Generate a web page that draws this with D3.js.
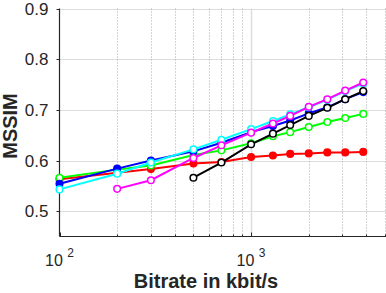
<html>
<head>
  <title>MSSIM vs bitrate</title>
  <script src='https://d3js.org/d3.v7.min.js'></script>
  <style>
    body { margin: 0; background: #fff; }
    text { font-family: "Liberation Sans", Arial, sans-serif; fill: #262626; }
  </style>
</head>
<body>
<script>

// bitrates (kbit/s) shared by all curves
var bitrates = [100, 200, 300, 500, 700, 1000, 1300, 1600, 2000, 2500, 3100, 3850];

var red   = [0.563, 0.576, 0.583, 0.594, 0.597, 0.607, 0.610, 0.613, 0.614, 0.616, 0.616, 0.617];
var green = [0.566, 0.582, 0.590, 0.611, 0.620, 0.634, 0.648, 0.656, 0.666, 0.676, 0.684, 0.692];
var blue  = [0.554, 0.584, 0.600, 0.618, 0.635, 0.656, 0.668, 0.679, 0.693, 0.705, 0.721, 0.735];
var cyan  = [0.543, 0.574, 0.596, 0.622, 0.641, 0.662, 0.678, 0.691, 0.705, 0.720, 0.737, 0.752];
var magenta = [null, 0.544, 0.561, 0.605, 0.630, 0.655, 0.673, 0.688, 0.706, 0.721, 0.738, 0.754];
var black = [null, null, null, 0.566, 0.596, 0.632, 0.653, 0.670, 0.688, 0.704, 0.721, 0.737];

var yTicks = [0.5, 0.6, 0.7, 0.8, 0.9];
var xMajor = [100, 1000];
var xMinor = [200, 300, 400, 500, 600, 700, 800, 900, 2000, 3000, 4000, 5000];

var series = [
  {name: "red", values: red, color: "#ff0000", filled: true},
  {name: "green", values: green, color: "#00ff00", filled: false},
  {name: "blue", values: blue, color: "#0000ff", filled: true},
  {name: "cyan", values: cyan, color: "#00ffff", filled: false},
  {name: "magenta", values: magenta, color: "#ff00ff", filled: false},
  {name: "black", values: black, color: "#000000", filled: false}
];

var width = 386, height = 293;
var pLeft = 59.5, pRight = 385, pTop = 8.5, pBottom = 236.5;

var x = d3.scaleLog().domain([100, 5000]).range([pLeft, pRight]);
var y = d3.scaleLinear().domain([0.45, 0.9]).range([pBottom, pTop]);

var svg = d3.select('body')
  .append('svg')
  .attr('width', width)
  .attr('height', height);

// grid
svg.selectAll('.ygrid')
  .data(yTicks)
  .enter().append('line')
  .attr('x1', pLeft).attr('x2', width)
  .attr('y1', function(d) { return Math.round(y(d)) + 0.5; })
  .attr('y2', function(d) { return Math.round(y(d)) + 0.5; })
  .attr('stroke', '#dcdcdc')
  .attr('stroke-width', 1.2);

svg.selectAll('.xminor')
  .data(xMinor)
  .enter().append('line')
  .attr('x1', function(d) { return Math.round(x(d)) + 0.5; })
  .attr('x2', function(d) { return Math.round(x(d)) + 0.5; })
  .attr('y1', pTop).attr('y2', pBottom)
  .attr('stroke', '#aaaaaa')
  .attr('stroke-dasharray', '1,2')
  .attr('stroke-width', 1);

svg.selectAll('.xmajor')
  .data(xMajor.slice(1))
  .enter().append('line')
  .attr('x1', function(d) { return Math.round(x(d)) + 0.5; })
  .attr('x2', function(d) { return Math.round(x(d)) + 0.5; })
  .attr('y1', pTop).attr('y2', pBottom)
  .attr('stroke', '#dcdcdc')
  .attr('stroke-width', 1.5);

// axes
svg.append('line')
  .attr('x1', pLeft).attr('x2', pLeft)
  .attr('y1', pTop).attr('y2', pBottom)
  .attr('stroke', '#262626').attr('stroke-width', 1.2);

svg.append('line')
  .attr('x1', pLeft).attr('x2', width)
  .attr('y1', pBottom).attr('y2', pBottom)
  .attr('stroke', '#262626').attr('stroke-width', 1.2);

svg.selectAll('.ytick')
  .data(yTicks)
  .enter().append('line')
  .attr('x1', pLeft - 3).attr('x2', pLeft)
  .attr('y1', function(d) { return Math.round(y(d)) + 0.5; })
  .attr('y2', function(d) { return Math.round(y(d)) + 0.5; })
  .attr('stroke', '#262626');

svg.selectAll('.xtick')
  .data(xMinor.concat(xMajor))
  .enter().append('line')
  .attr('x1', function(d) { return Math.round(x(d)) + 0.5; })
  .attr('x2', function(d) { return Math.round(x(d)) + 0.5; })
  .attr('y1', pBottom).attr('y2', function(d) { return xMajor.indexOf(d) >= 0 ? pBottom - 4 : pBottom - 2; })
  .attr('stroke', '#262626');

svg.selectAll('.ylabel')
  .data(yTicks)
  .enter().append('text')
  .attr('x', pLeft - 11)
  .attr('y', function(d) { return y(d) + 6; })
  .attr('text-anchor', 'end')
  .style('font-size', '17px')
  .text(function(d) { return d3.format('.1f')(d); });

var xl = svg.selectAll('.xlabel')
  .data(xMajor)
  .enter().append('text')
  .attr('x', function(d) { return x(d); })
  .attr('y', 266)
  .attr('text-anchor', 'middle')
  .style('font-size', '16px');

xl.append('tspan').text('10 ');
xl.append('tspan')
  .attr('dy', -9)
  .style('font-size', '12px')
  .text(function(d) { return Math.round(Math.log10(d)); });

svg.append('text')
  .attr('x', 206)
  .attr('y', 288)
  .attr('text-anchor', 'middle')
  .style('font-size', '20px')
  .style('font-weight', 'bold')
  .text('Bitrate in kbit/s');

svg.append('text')
  .attr('transform', 'translate(17,126) rotate(-90)')
  .attr('text-anchor', 'middle')
  .style('font-size', '20px')
  .style('font-weight', 'bold')
  .text('MSSIM');

// curves
var line = d3.line()
  .defined(function(d) { return d.v != null; })
  .x(function(d) { return x(d.b); })
  .y(function(d) { return y(d.v); });

series.forEach(function(s) {
  var pts = bitrates.map(function(b, i) { return {b: b, v: s.values[i]}; });
  var g = svg.append('g');

  g.append('path')
    .datum(pts)
    .attr('d', line)
    .attr('fill', 'none')
    .attr('stroke', s.color)
    .attr('stroke-width', 2);

  g.selectAll('circle')
    .data(pts.filter(function(d) { return d.v != null; }))
    .enter().append('circle')
    .attr('cx', function(d) { return x(d.b); })
    .attr('cy', function(d) { return y(d.v); })
    .attr('r', 3.3)
    .attr('fill', s.filled ? s.color : '#fff')
    .attr('stroke', s.color)
    .attr('stroke-width', 1.5);
});

</script>
</body>
</html>
